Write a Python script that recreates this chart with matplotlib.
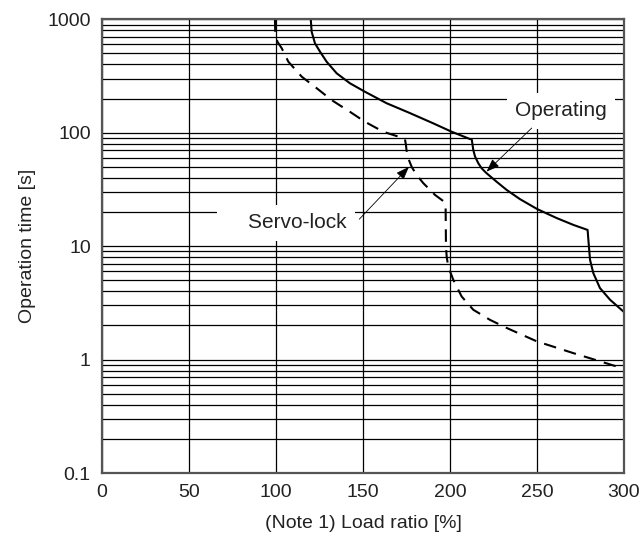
import matplotlib
matplotlib.use("Agg")
import matplotlib.pyplot as plt

plt.rcParams['font.family'] = ['Liberation Sans', 'DejaVu Sans']

# Data
operating_x = [120, 120.5, 122.4, 125.3, 129.1, 134.9, 142.5, 151.1, 163.6, 177,
               190.4, 201, 211.5, 212.5, 213.4, 214.4, 216.3, 218.2, 220.1, 221,
               226.8, 232.6, 240.2, 250.2, 261.3, 270.9, 279.1, 279.7, 280.5, 282.4,
               286.2, 292, 299.6]
operating_y = [1000, 778, 615, 519, 423, 334, 273, 230, 182, 149,
               121, 102, 88, 87.7, 70.5, 61.7, 53.8, 48.6, 45.4, 44,
               37, 31.3, 26, 21.2, 17.7, 15.4, 13.9, 10.6, 7.57, 5.78,
               4.27, 3.37, 2.66]

servo_x = [99.4, 99.6, 100.8, 103.3, 107.1, 114.8, 123.4, 132, 142.5, 151.1,
           161.7, 173.2, 174.1, 174.7, 175, 176, 178, 180.8, 184.7, 191.4,
           196.6, 197.5, 197.7, 198.1, 199, 201.9, 206.7, 213.4, 223, 232.6,
           249.8, 270.9, 295.8]
servo_y = [1000, 760, 635, 556, 423, 312, 247, 194, 153, 125,
           102, 89.5, 88, 78, 70.5, 59.6, 50, 42.5, 35.9, 28.3,
           24.7, 22.3, 9.9, 8.1, 6.6, 5.05, 3.6, 2.75, 2.24, 1.9,
           1.45, 1.14, 0.87]

x_ticks = [0, 50, 100, 150, 200, 250, 300]
y_ticks = [0.1, 1, 10, 100, 1000]
y_ticklabels = ['0.1', '1', '10', '100', '1000']

fig = plt.figure(figsize=(6.43, 5.38), dpi=100)
ax = fig.add_axes([0.1586, 0.1208, 0.8118, 0.8433])
ax.set_yscale('log')
ax.set_xlim(0, 300)
ax.set_ylim(0.1, 1000)

# grid
minor_y = [m * 10.0 ** e for e in range(-1, 3) for m in range(2, 10)]
for v in y_ticks + minor_y:
    ax.axhline(v, color='black', lw=0.9, zorder=1)
for v in x_ticks:
    ax.axvline(v, color='black', lw=0.9, zorder=1)

ax.plot(operating_x, operating_y, color='black', lw=1.5, zorder=3,
        solid_joinstyle='round')
ax.plot(servo_x, servo_y, color='black', lw=1.5, zorder=3,
        linestyle=(0, (6, 4)))

ax.set_xticks(x_ticks)
ax.set_xticklabels([str(t) for t in x_ticks])
ax.set_yticks(y_ticks)
ax.set_yticklabels(y_ticklabels)
ax.yaxis.set_minor_locator(matplotlib.ticker.NullLocator())
ax.tick_params(axis='both', length=0, labelsize=14, colors='#222222')
ax.tick_params(axis='x', pad=8)
ax.tick_params(axis='y', pad=8)

for s in ax.spines.values():
    s.set_color('#555555')
    s.set_linewidth(1.6)
    s.set_zorder(4)

ax.set_xlabel('(Note 1) Load ratio [%]', fontsize=14, color='#222222', labelpad=10)
ax.set_ylabel('Operation time [s]', fontsize=14, color='#222222', labelpad=8)

arrow = dict(arrowstyle='-|>,head_length=0.8,head_width=0.3', color='black',
             lw=0.6, shrinkA=0, shrinkB=0)
ax.annotate('', xy=(221, 45.4), xytext=(247, 110), arrowprops=arrow, zorder=5)
ax.annotate('', xy=(176.4, 50), xytext=(147.9, 17.3), arrowprops=arrow, zorder=5)

ax.text(263.8, 155.6, 'Operating', fontsize=15, color='#222222', ha='center',
        va='center', zorder=2,
        bbox=dict(facecolor='white', edgecolor='none', pad=6))
ax.text(140.8, 16.1, '\u00a0\u00a0\u00a0\u00a0Servo-lock', fontsize=15,
        color='#222222', ha='right', va='center', zorder=2,
        bbox=dict(facecolor='white', edgecolor='none', pad=6))

fig.savefig('out.png', dpi=100)
